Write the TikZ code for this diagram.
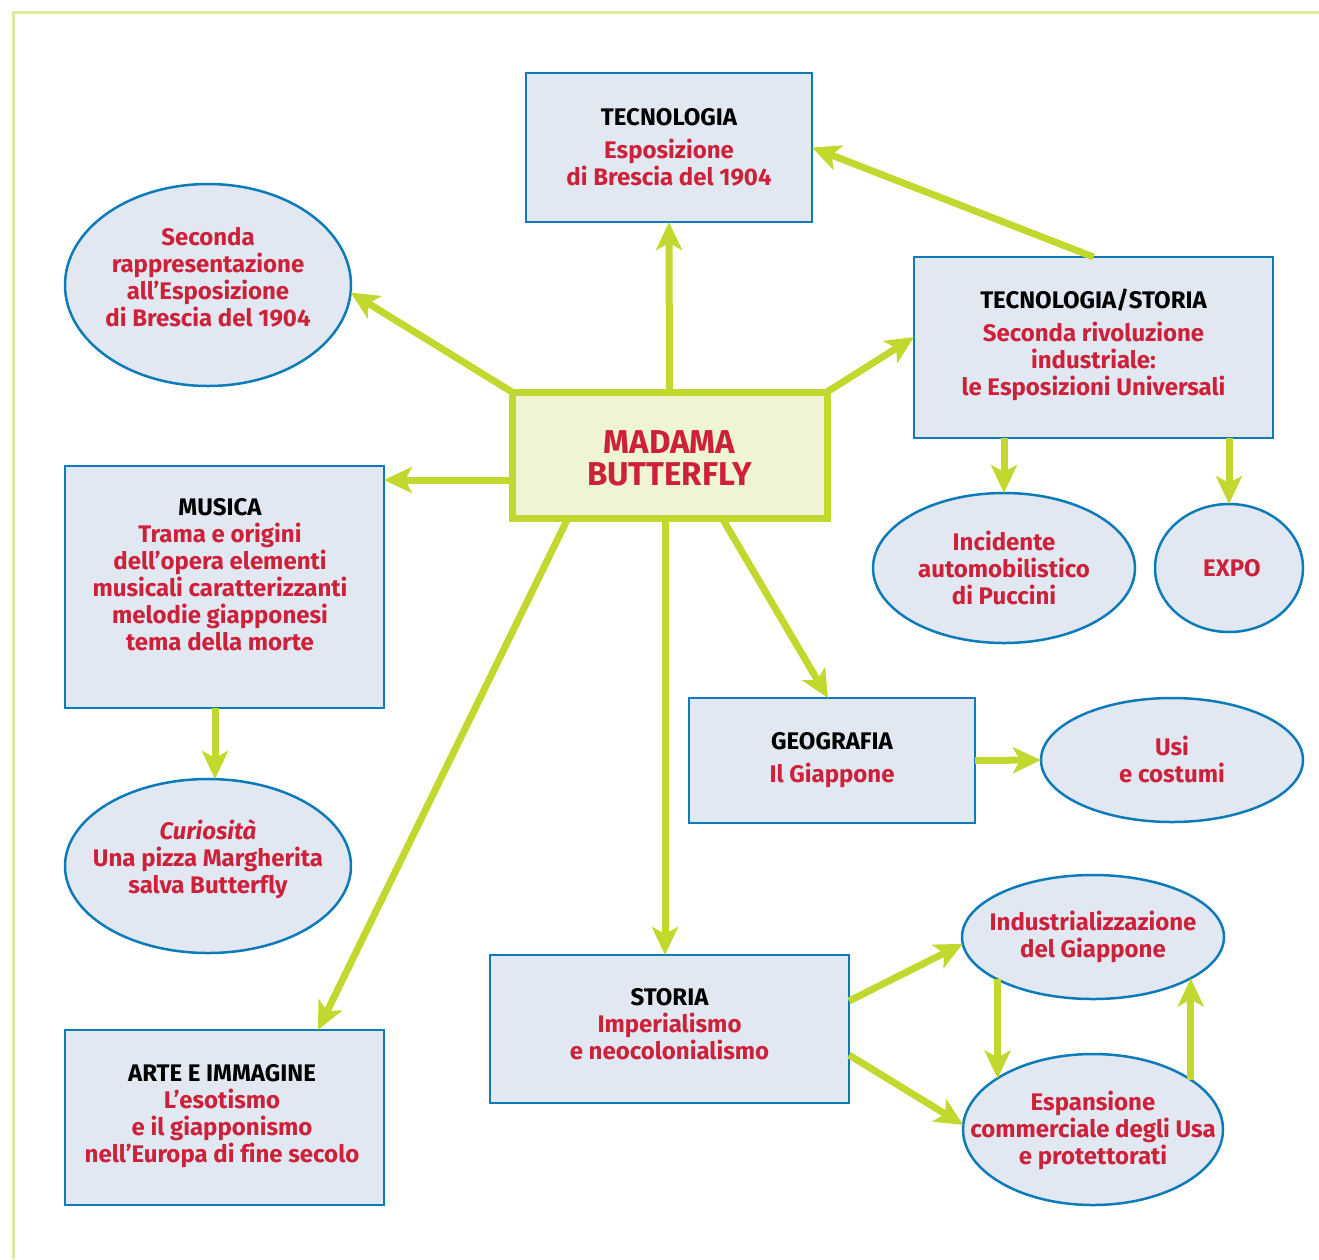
\documentclass[tikz,border=0pt]{standalone}
\usepackage{fontspec}
\setmainfont{Fira Sans}[Ligatures=NoCommon]
\usetikzlibrary{arrows.meta,shapes.geometric}
\definecolor{bred}{HTML}{CC2139}
\definecolor{bblue}{HTML}{0B7BB9}
\definecolor{bfill}{HTML}{E1E8F2}
\definecolor{agreen}{HTML}{C2D82E}
\definecolor{cfill}{HTML}{EEF4D4}
\definecolor{fcol}{HTML}{DEEA9C}
\begin{document}
\begin{tikzpicture}[x=1pt,y=-1pt,
  box/.style={draw=bblue, fill=bfill, line width=2.5pt, rectangle, inner sep=0pt, outer sep=0pt,
    align=center, font=\fontsize{24}{27}\selectfont\bfseries, text=bred},
  ell/.style={draw=bblue, fill=bfill, line width=2.5pt, ellipse, inner sep=0pt, outer sep=0pt},
  txt/.style={align=center, font=\fontsize{24}{27}\selectfont\bfseries, text=bred, inner sep=0pt},
  arr/.style={draw=agreen, line width=7pt, -{Stealth[length=28pt,width=26pt,inset=7pt]}},
]
\useasboundingbox (0,0) rectangle (1319,1259);
\draw[fcol, line width=3pt] (13,1259) -- (13,12) -- (1319,12);

% boxes
\node[box, minimum width=286pt, minimum height=149pt] (T) at (669,147.5)
  {{\color{black}TECNOLOGIA}\\[6pt]Esposizione\\di Brescia del 1904};
\node[box, minimum width=359pt, minimum height=181pt] (TS) at (1093.5,347.5) {};
\node[txt] (TSt) at (1093.5,344.5)
  {{\color{black}TECNOLOGIA/STORIA}\\[6pt]Seconda rivoluzione\\industriale:\\le Esposizioni Universali};
\node[box, minimum width=319pt, minimum height=242pt] (M) at (224.5,587) {};
\node[txt] (Mt) at (220,575)
  {{\color{black}MUSICA}\\Trama e origini\\dell’opera elementi\\musicali caratterizzanti\\melodie giapponesi\\tema della morte};
\node[box, minimum width=286pt, minimum height=125pt] (G) at (832,760.5)
  {{\color{black}GEOGRAFIA}\\[6pt]Il Giappone};
\node[box, minimum width=359pt, minimum height=148pt] (St) at (669.5,1029) {};
\node[txt] (Stt) at (669.5,1024)
  {{\color{black}STORIA}\\Imperialismo\\e neocolonialismo};
\node[box, minimum width=319pt, minimum height=175pt] (A) at (224.5,1117.5) {};
\node[txt] (At) at (222,1116)
  {{\color{black}ARTE E IMMAGINE}\\L’esotismo\\e il giapponismo\\nell’Europa di fine secolo};
\node[draw=agreen, fill=cfill, line width=7pt, inner sep=0pt, outer sep=0pt,
  minimum width=315pt, minimum height=126pt] (C) at (669.5,455) {};
\node[align=center, inner sep=0pt, font=\fontsize{33}{32}\selectfont\bfseries, text=bred]
  (Ct) at (669.5,458) {MADAMA\\BUTTERFLY};

% ellipses
\node[ell, minimum width=286pt, minimum height=202pt] (S) at (208,285) {};
\node[txt] (St1) at (208,277) {Seconda\\rappresentazione\\all’Esposizione\\di Brescia del 1904};
\node[ell, minimum width=262pt, minimum height=150pt] (I) at (1004,568) {};
\node[txt] (It) at (1004,568) {Incidente\\automobilistico\\di Puccini};
\node[ell, minimum width=148pt, minimum height=128pt] (X) at (1229,568) {};
\node[txt] (Xt) at (1232,568) {EXPO};
\node[ell, minimum width=262pt, minimum height=124pt] (U) at (1172,760) {};
\node[txt] (Ut) at (1172,759) {Usi\\e costumi};
\node[ell, minimum width=286pt, minimum height=174pt] (Cu) at (208,866) {};
\node[txt] (Cut) at (208,859) {\itshape Curiosità\\Una pizza Margherita\\salva Butterfly};
\node[ell, minimum width=262pt, minimum height=124pt] (In) at (1093,937) {};
\node[txt] (Int) at (1093,937) {Industrializzazione\\del Giappone};
\node[ell, minimum width=260pt, minimum height=151pt] (Es) at (1093,1129.5) {};
\node[txt] (Est) at (1093,1130) {Espansione\\commerciale degli Usa\\e protettorati};

% helper coordinates
\coordinate (h480) at (0,480);
\coordinate (h337) at (0,337);
\coordinate (h1001) at (0,1001);
\coordinate (h1055) at (0,1055);
\coordinate (v568) at (568,0);
\coordinate (v318) at (318,0);
\coordinate (v665) at (665,0);
\coordinate (v722) at (722,0);
\coordinate (v828) at (828,0);
\coordinate (v215) at (215,0);

% arrows
\draw[arr] (C.north) -- (T.south);
\draw[arr] (C.north west) -- (S.-3);
\draw[arr] (C.west |- h480) -- (M.east |- h480);
\draw[arr] (C.north east) -- (TS.west |- h337);
\draw[arr] (TS.north) -- (T.east);
\draw[arr] (TS.south -| I.north) -- (I.north);
\draw[arr] (TS.south -| X.north) -- (X.north);
\draw[arr] (C.south -| v568) -- (A.north -| v318);
\draw[arr] (C.south -| v665) -- (St.north -| v665);
\draw[arr] (C.south -| v722) -- (G.north -| v828);
\draw[arr] (M.south -| v215) -- (Cu.north -| v215);
\draw[arr] (G.east) -- (U.west);
\draw[arr] (St.east |- h1001) -- (In.183);
\draw[arr] (St.east |- h1055) -- (Es.178);
\draw[arr] (In.204) -- (In.204 |- Es.152);
\draw[arr] (Es.27) -- (Es.27 |- In.-23);
\end{tikzpicture}
\end{document}
